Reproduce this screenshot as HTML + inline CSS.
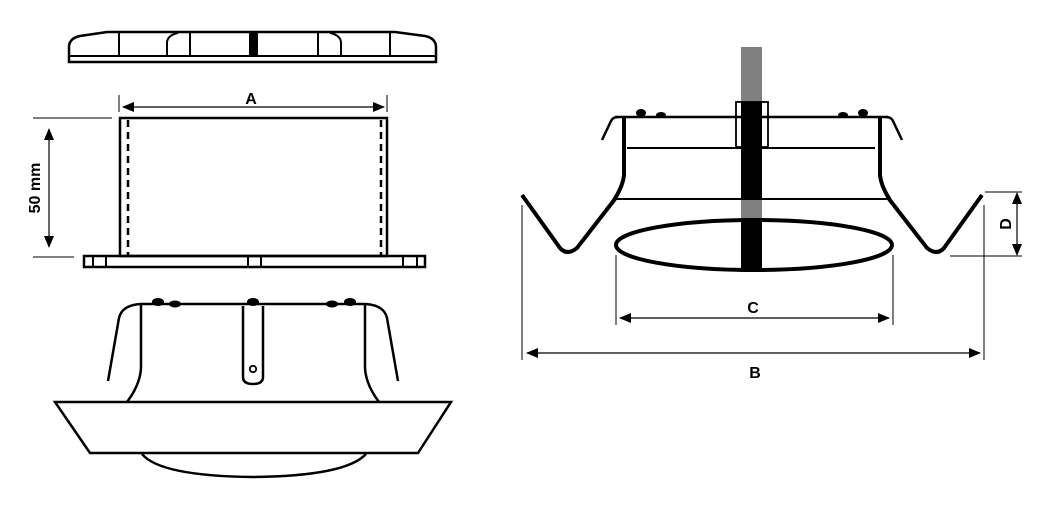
<!DOCTYPE html>
<html><head><meta charset="utf-8"><style>
html,body{margin:0;padding:0;background:#fff;}
svg{display:block;}
text{font-family:"Liberation Sans",sans-serif;font-weight:bold;fill:#000;}
</style></head><body>
<svg width="1040" height="516" viewBox="0 0 1040 516" xmlns="http://www.w3.org/2000/svg">
<defs>
<marker id="ar" markerWidth="12" markerHeight="10" refX="11" refY="5" orient="auto-start-reverse" markerUnits="userSpaceOnUse"><path d="M0,0 L12,5 L0,10 Z" fill="#000"/></marker>
</defs>
<g fill="none" stroke="#000">
<path d="M69,62 L69,46 Q70,38 80,36 L107,32 L395,32 L425,36 Q435,38 436,46 L436,62 Z" stroke-width="2.5"/>
<line x1="69" y1="56" x2="436" y2="56" stroke-width="2"/>
<line x1="119" y1="33" x2="119" y2="56" stroke-width="2"/>
<path d="M167,56 L167,42 Q168,35 178,33" stroke-width="2"/>
<line x1="190" y1="33" x2="190" y2="56" stroke-width="2"/>
<rect x="249" y="32" width="9" height="24" fill="#000" stroke="none"/>
<line x1="318" y1="33" x2="318" y2="56" stroke-width="2"/>
<path d="M341,56 L341,42 Q340,35 330,33" stroke-width="2"/>
<line x1="390" y1="33" x2="390" y2="56" stroke-width="2"/>
<rect x="120" y="118" width="267" height="138" stroke-width="2.5"/>
<line x1="128" y1="120" x2="128" y2="256" stroke-width="2.5" stroke-dasharray="7,5"/>
<line x1="381" y1="120" x2="381" y2="256" stroke-width="2.5" stroke-dasharray="7,5"/>
<rect x="84" y="256" width="341" height="11" stroke-width="2.5"/>
<line x1="93" y1="256" x2="93" y2="267" stroke-width="2"/>
<line x1="106" y1="256" x2="106" y2="267" stroke-width="2"/>
<line x1="248" y1="256" x2="248" y2="267" stroke-width="2"/>
<line x1="261" y1="256" x2="261" y2="267" stroke-width="2"/>
<line x1="403" y1="256" x2="403" y2="267" stroke-width="2"/>
<line x1="417" y1="256" x2="417" y2="267" stroke-width="2"/>
<line x1="119" y1="95" x2="119" y2="112" stroke-width="1"/>
<line x1="387" y1="95" x2="387" y2="112" stroke-width="1"/>
<line x1="123" y1="107" x2="384" y2="107" stroke-width="1.2" marker-end="url(#ar)" marker-start="url(#ar)"/>
<line x1="33" y1="118" x2="112" y2="118" stroke-width="1"/>
<line x1="33" y1="257" x2="74" y2="257" stroke-width="1"/>
<line x1="49" y1="130" x2="49" y2="246" stroke-width="1.2"/>
<path d="M44,140 L49,128 L54,140 Z M44,236 L49,248 L54,236 Z" fill="#000" stroke="none"/>
<path d="M141,304 L365,304" stroke-width="2.5"/>
<path d="M108,381 L119,318 Q122,305 141,304" stroke-width="2.5"/>
<path d="M398,381 L387,318 Q384,305 365,304" stroke-width="2.5"/>
<path d="M141,305 L141,368 Q140,385 127,402" stroke-width="2.5"/>
<path d="M365,305 L365,368 Q366,385 379,402" stroke-width="2.5"/>
<path d="M55,402 L451,402 L418,453 L90,453 Z" stroke-width="2.5"/>
<path d="M142,454 Q160,476 253,477 Q346,476 366,454" stroke-width="2.5"/>
<path d="M243,306 L243,377 Q243,384 253,384 Q263,384 263,377 L263,306" stroke-width="2.5"/>
<circle cx="253" cy="369" r="3.2" stroke-width="1.8"/>
</g>
<g fill="#000">
<ellipse cx="158" cy="302" rx="6" ry="4"/><ellipse cx="175" cy="304" rx="6" ry="3.5"/>
<ellipse cx="253" cy="302" rx="6" ry="4"/>
<ellipse cx="332" cy="304" rx="6" ry="3.5"/><ellipse cx="350" cy="302" rx="6" ry="4"/>
</g>
<text x="251" y="104" font-size="16" text-anchor="middle">A</text>
<text transform="translate(40,188) rotate(-90)" font-size="16" text-anchor="middle">50 mm</text>

<rect x="741" y="47" width="21" height="171" fill="#808080"/>
<rect x="741" y="102" width="21" height="96" fill="#000"/>
<rect x="741" y="218" width="21" height="54" fill="#000"/>
<g fill="none" stroke="#000">
<rect x="736" y="102" width="32" height="45" stroke-width="1.8"/>
<line x1="615" y1="117" x2="888" y2="117" stroke-width="2.5"/>
<line x1="627" y1="148" x2="875" y2="148" stroke-width="2"/>
<line x1="615" y1="199" x2="889" y2="199" stroke-width="2"/>
<path d="M602,140 L611,121 Q613,117 618,117" stroke-width="2.5"/>
<path d="M902,140 L893,121 Q891,117 886,117" stroke-width="2.5"/>
<path d="M624,118 L624,175 Q623,186 614,200" stroke-width="4"/>
<path d="M880,118 L880,175 Q881,186 890,200" stroke-width="4"/>
<path d="M522,195 L560,248 Q567,256 577,248 L615,199" stroke-width="4"/>
<path d="M982,195 L944,248 Q937,256 927,248 L889,199" stroke-width="4"/>
<ellipse cx="754" cy="245" rx="138" ry="25" stroke-width="4"/>
<line x1="616" y1="255" x2="616" y2="325" stroke-width="1"/>
<line x1="893" y1="255" x2="893" y2="325" stroke-width="1"/>
<line x1="620" y1="318" x2="889" y2="318" stroke-width="1.2" marker-end="url(#ar)" marker-start="url(#ar)"/>
<line x1="522" y1="205" x2="522" y2="360" stroke-width="1"/>
<line x1="984" y1="205" x2="984" y2="360" stroke-width="1"/>
<line x1="527" y1="353" x2="980" y2="353" stroke-width="1.2" marker-end="url(#ar)" marker-start="url(#ar)"/>
<line x1="985" y1="192" x2="1022" y2="192" stroke-width="1"/>
<line x1="950" y1="256" x2="1022" y2="256" stroke-width="1"/>
<line x1="1017" y1="196" x2="1017" y2="252" stroke-width="1.2"/>
</g>
<path d="M1012,204 L1017,192 L1022,204 Z M1012,244 L1017,256 L1022,244 Z" fill="#000"/>
<g fill="#000">
<ellipse cx="641" cy="113" rx="5" ry="4"/><ellipse cx="661" cy="115" rx="5" ry="3"/>
<ellipse cx="843" cy="115" rx="5" ry="3"/><ellipse cx="863" cy="113" rx="5" ry="4"/>
</g>
<text x="753" y="313" font-size="16" text-anchor="middle">C</text>
<text x="755" y="378" font-size="16" text-anchor="middle">B</text>
<text transform="translate(1011,224) rotate(-90)" font-size="16" text-anchor="middle">D</text>
</svg>
</body></html>
